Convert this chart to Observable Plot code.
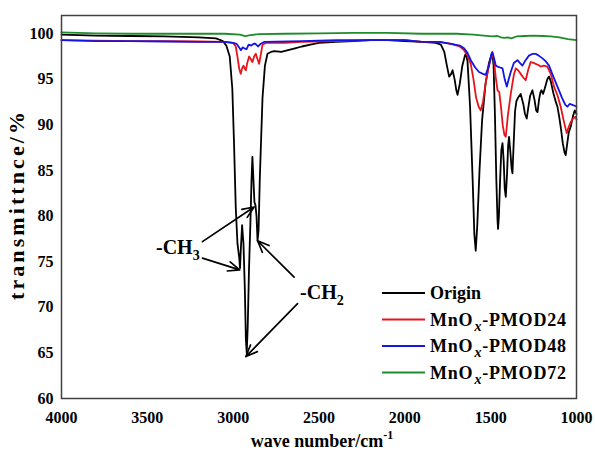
<!DOCTYPE html>
<html><head><meta charset="utf-8">
<script src="https://cdn.jsdelivr.net/npm/d3@7"></script>
<script src="https://cdn.jsdelivr.net/npm/@observablehq/plot@0.6"></script>
<style>
body{margin:0;background:#fff;}
#wrap{position:relative;width:595px;height:459px;}
</style></head><body><div id="wrap"></div>
<script>
// ---- data ----
const seriesNames = ["Origin", "MnOx-PMOD24", "MnOx-PMOD48", "MnOx-PMOD72"];
const seriesColors = ["#000000", "#e8141b", "#1414e6", "#1f8c2a"];

const originWN = [4000,3800,3600,3400,3200,3100,3060,3040,3020,3005,2995,2985,2975,2965,2960,2955,2948,2940,2932,2926,2921,2915,2908,2900,2893,2888,2882,2876,2870,2864,2858,2852,2845,2838,2829,2815,2800,2780,2760,2720,2680,2640,2600,2550,2500,2400,2300,2200,2100,2000,1900,1820,1790,1770,1755,1742,1730,1722,1710,1700,1693,1680,1665,1650,1645,1635,1620,1605,1595,1587,1578,1565,1550,1530,1510,1495,1490,1483,1475,1467,1460,1457,1452,1445,1438,1431,1424,1418,1412,1405,1398,1393,1385,1378,1373,1366,1358,1350,1340,1325,1310,1300,1290,1280,1270,1257,1245,1235,1227,1218,1210,1204,1195,1185,1170,1160,1150,1135,1120,1111,1100,1090,1080,1070,1063,1055,1045,1034,1020,1010,1000];
const originT = [99.9,99.8,99.75,99.7,99.6,99.5,99.2,98.7,97.5,94,88,81,77,75.5,74.3,76.5,79,77,72,66.5,65.0,68,74,79,84,86.5,84,81.5,81.2,80,77.3,78.5,84,88,93,96.5,97.8,98.0,98.1,98.0,98.2,98.4,98.6,98.8,99.0,99.1,99.2,99.3,99.3,99.2,99.1,99.0,98.8,98.0,96.5,95.3,95.6,96.0,95.0,93.8,93.3,94.5,96.5,97.6,97.8,97.0,92,84,78,76.2,79,85,90.5,94.5,96.8,97.7,97.8,96.5,91,84,79.5,78.6,80,84,87.2,88.0,86,83,82.1,84.5,87.8,88.7,87,85.2,84.7,88,91.5,92.6,93,93.4,92.3,91.2,90.7,92,93.2,93.8,92.8,91.6,91.4,92.8,93.6,93.8,93.4,94,95,95.3,94.8,93.5,92.5,92.0,90.8,89.5,88,87,86.7,87.8,89.2,89.8,91.0,91.6,91.2];

const pmod24WN = [4000,3800,3600,3400,3200,3050,3000,2985,2975,2965,2956,2948,2940,2933,2926,2918,2907,2897,2888,2878,2868,2858,2849,2840,2829,2810,2700,2600,2400,2200,2000,1900,1800,1730,1680,1655,1635,1616,1600,1585,1570,1558,1545,1530,1510,1495,1490,1480,1471,1460,1450,1440,1430,1420,1412,1400,1383,1365,1354,1340,1325,1310,1296,1282,1267,1250,1238,1225,1209,1190,1170,1150,1131,1110,1092,1075,1057,1045,1034,1020,1005,1000];
const pmod24T = [99.3,99.25,99.2,99.2,99.15,99.1,99.0,98.6,97.5,96.2,95.6,96.2,96.5,96.2,96.0,96.8,97.5,97.2,96.9,97.5,97.8,97.2,96.7,97.6,98.8,99.0,99.0,99.1,99.2,99.3,99.3,99.1,99.1,98.9,98.6,98.2,97.6,96.7,95,93,92.0,91.6,92.5,94.5,96.5,97.6,97.8,97,95.3,93.8,93.6,92,90.0,88.9,88.7,91,93.4,95.5,96.2,96,95.6,95.2,94.9,96,96.9,96.8,96.7,96.6,96.4,96.5,96.4,95.6,94.2,93.2,92.0,90.5,89.1,89.8,90.3,90.7,90.9,90.6];

const pmod48WN = [4000,3800,3600,3400,3200,3050,3000,2980,2965,2955,2945,2935,2922,2910,2895,2880,2870,2855,2840,2820,2600,2400,2200,2000,1900,1800,1730,1680,1655,1635,1616,1590,1568,1545,1529,1510,1495,1490,1480,1470,1460,1445,1431,1418,1406,1395,1383,1365,1344,1330,1315,1300,1277,1255,1238,1220,1198,1180,1160,1135,1111,1085,1065,1053,1040,1024,1010,1000];
const pmod48T = [99.3,99.2,99.2,99.15,99.1,99.1,99.0,98.9,98.5,98.2,98.5,98.4,98.3,98.8,98.7,98.9,98.9,98.6,98.9,99.1,99.2,99.3,99.3,99.3,99.1,99.1,98.9,98.7,98.4,97.9,97.1,96.3,95.8,95.6,95.5,96.5,97.8,98.0,97.3,96.5,96.4,96.3,96.2,95,94.2,95,95.8,96.8,97.1,96.8,96.5,97,97.6,97.8,97.8,97.6,97.3,97,96.5,95.3,94.2,93,92.2,92.0,92.3,92.2,92.1,92.0];

const pmod72WN = [4000,3800,3600,3400,3200,3050,2960,2930,2900,2850,2700,2500,2300,2100,1900,1800,1700,1600,1540,1490,1460,1440,1420,1400,1380,1350,1300,1250,1200,1150,1100,1050,1000];
const pmod72T = [100.15,100.05,100.0,100.0,100.0,100.0,99.9,99.75,99.85,99.95,100.0,100.05,100.1,100.1,100.0,100.0,100.0,99.9,99.8,99.7,99.75,99.6,99.55,99.6,99.5,99.7,99.75,99.8,99.75,99.7,99.6,99.4,99.3];

const xTicks = [4000, 3500, 3000, 2500, 2000, 1500, 1000];
const yTicks = [60, 65, 70, 75, 80, 85, 90, 95, 100];

// annotations (data coordinates)
const annotLabels = ["-CH3", "-CH2"];
const annotWN = [3195, 2610];
const annotT = [76.6, 71.6];
const arrowFromWN = [3179, 3179, 2645, 2625];
const arrowFromT = [77.2, 75.4, 73.3, 70.4];
const arrowToWN = [2878, 2962, 2858, 2926];
const arrowToT = [81.0, 74.1, 77.3, 64.6];

// ---- build tables ----
const allWN = [originWN, pmod24WN, pmod48WN, pmod72WN];
const allT = [originT, pmod24T, pmod48T, pmod72T];
const rows = [];
seriesNames.forEach((s, i) => allWN[i].forEach((w, j) => rows.push({series: s, wn: w, t: allT[i][j]})));
const annots = annotLabels.map((l, i) => ({label: l, wn: annotWN[i], t: annotT[i]}));
const arrows = arrowFromWN.map((w, i) => ({x1: w, y1: arrowFromT[i], x2: arrowToWN[i], y2: arrowToT[i]}));

const FONT = '"Liberation Serif", "Times New Roman", serif';

const chart = Plot.plot({
  width: 595, height: 459,
  marginLeft: 61, marginRight: 19, marginTop: 15, marginBottom: 61,
  style: {fontFamily: FONT, fontSize: "16px", fontWeight: "bold", color: "#000", background: "#fff"},
  x: {domain: [4000, 1000], ticks: xTicks, tickFormat: d => String(d), tickSize: 0, tickPadding: 13, label: null},
  y: {domain: [60, 102], ticks: yTicks, tickFormat: d => String(d), tickSize: 0, tickPadding: 8, label: null},
  color: {domain: seriesNames, range: seriesColors},
  marks: [
    Plot.line(rows, {x: "wn", y: "t", z: "series", stroke: "series", strokeWidth: 1.8, curve: "linear"}),
    Plot.frame({stroke: "#404040", strokeWidth: 1.5}),
    Plot.arrow(arrows, {x1: "x1", y1: "y1", x2: "x2", y2: "y2", stroke: "#000", strokeWidth: 1.7, headLength: 11, headAngle: 45}),
    Plot.text(annots, {x: "wn", y: "t", text: "label", fontSize: 20, fontWeight: "bold", fill: "#000"})
  ]
});
document.getElementById("wrap").appendChild(chart);

const svg = d3.select(chart);
// annotation subscripts & anchors
svg.selectAll("text").each(function() {
  const t = this.textContent;
  const m = /^-CH(\d)$/.exec(t);
  if (m) {
    const el = d3.select(this);
    el.text(null).attr("text-anchor", m[1] === "3" ? "end" : "start");
    el.append("tspan").text("-CH");
    el.append("tspan").attr("font-size", 14).attr("dy", 6).text(m[1]);
  }
});

// axis labels
svg.append("text")
  .attr("transform", "translate(24,206) rotate(-90)")
  .attr("text-anchor", "middle")
  .attr("font-size", 22).attr("font-weight", "bold").attr("font-family", FONT)
  .attr("textLength", 188).attr("lengthAdjust", "spacing")
  .text("transmittnce/%");
const xl = svg.append("text")
  .attr("x", 322).attr("y", 447)
  .attr("text-anchor", "middle")
  .attr("font-size", 18).attr("font-weight", "bold").attr("font-family", FONT);
xl.append("tspan").text("wave number/cm");
xl.append("tspan").attr("font-size", 12).attr("dy", -8).text("-1");

// legend
const lg = svg.append("g").attr("font-family", FONT).attr("font-weight", "bold").attr("font-size", 18).attr("text-anchor", "start");
seriesNames.forEach((s, i) => {
  const y = 293 + i * 26.5;
  lg.append("line").attr("x1", 382).attr("x2", 425).attr("y1", y).attr("y2", y)
    .attr("stroke", seriesColors[i]).attr("stroke-width", 1.8);
  const tx = lg.append("text").attr("x", 430).attr("y", y).attr("dy", "0.35em").attr("text-anchor", "start");
  if (s.startsWith("MnOx")) {
    tx.attr("letter-spacing", 0.8);
    tx.append("tspan").text("MnO");
    tx.append("tspan").attr("font-style", "italic").attr("font-size", 14).attr("dx", 1).attr("dy", 5).text("x");
    tx.append("tspan").attr("dy", -5).text(s.slice(4));
  } else {
    tx.text(s);
  }
});
</script>
</body></html>
